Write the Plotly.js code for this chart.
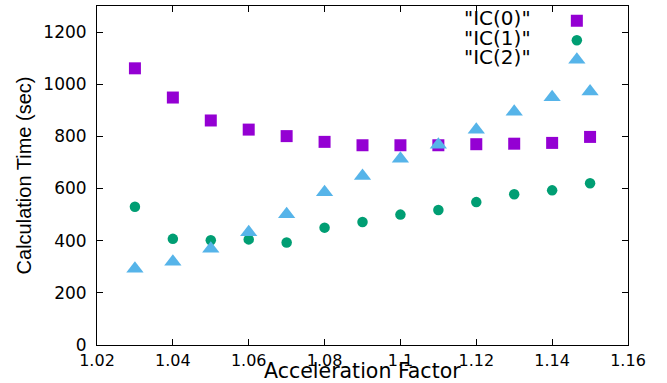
<!DOCTYPE html>
<html>
<head>
<meta charset="utf-8">
<script src="https://cdn.plot.ly/plotly-3.0.1.min.js"></script>
<style>html,body{margin:0;padding:0;background:#fff;}#chart{width:667px;height:383px;}</style>
</head>
<body>
<div id="chart"></div>
<script>
const accel = [1.03, 1.04, 1.05, 1.06, 1.07, 1.08, 1.09, 1.10, 1.11, 1.12, 1.13, 1.14, 1.15];
const ic0 = [1061, 949, 861, 826, 801, 779, 766, 766, 766, 770, 772, 775, 798];
const ic1 = [530, 407, 402, 405, 393, 450, 472, 500, 518, 548, 578, 593, 620];
const ic2 = [292, 319, 369, 432, 501, 586, 648, 714, 768, 825, 894, 950, 972];
const seriesNames = ['"IC(0)"', '"IC(1)"', '"IC(2)"'];
const xTitle = 'Acceleration Factor';
const yTitle = 'Calculation Time (sec)';
const xTickVals = [1.02, 1.04, 1.06, 1.08, 1.10, 1.12, 1.14, 1.16];
const xTickText = ['1.02', '1.04', '1.06', '1.08', '1.1', '1.12', '1.14', '1.16'];
const yTickVals = [0, 200, 400, 600, 800, 1000, 1200];
const yTickText = ['0', '200', '400', '600', '800', '1000', '1200'];

const colors = ['#9400d3', '#009e73', '#56b4e9'];
const symbols = ['square', 'circle', 'triangle-up'];
const sizes = [12, 10.5, 15];
const values = [ic0, ic1, ic2];

const traces = values.map((v, i) => ({
  x: accel, y: v, type: 'scatter', mode: 'markers', name: ' ',
  marker: {symbol: symbols[i], color: colors[i], size: sizes[i], line: {width: 0}}
}));

const hFont = 'DejaVu Sans, sans-serif';
const axisCommon = {
  showline: true, linecolor: '#000', linewidth: 1, mirror: 'ticks',
  ticks: 'inside', ticklen: 6, tickwidth: 1, tickcolor: '#000',
  showgrid: false, zeroline: false, tickmode: 'array',
  tickfont: {family: hFont, size: 17, color: '#000'}
};

const annotations = seriesNames.map((n, i) => ({
  xref: 'paper', yref: 'paper', x: 0.822, y: [0.965, 0.907, 0.850][i],
  xanchor: 'right', yanchor: 'middle', text: n, showarrow: false,
  font: {family: hFont, size: 20, color: '#000'}
}));
annotations.push({
  xref: 'paper', yref: 'paper', x: 0.5, y: -0.076, xanchor: 'center', yanchor: 'middle',
  text: xTitle, showarrow: false, borderpad: 0,
  font: {family: hFont, size: 20.5, color: '#000'}
});

const layout = {
  width: 667, height: 383,
  margin: {l: 97, r: 39, t: 6, b: 38},
  paper_bgcolor: '#fff', plot_bgcolor: '#fff',
  showlegend: true,
  legend: {x: 0.866, y: 1.0, xanchor: 'left', yanchor: 'top', bgcolor: 'rgba(0,0,0,0)',
           borderwidth: 0, font: {family: hFont, size: 12.7}, tracegroupgap: 0, itemwidth: 30},
  xaxis: Object.assign({}, axisCommon, {
    range: [1.02, 1.16], tickvals: xTickVals, ticktext: xTickText, ticklabelstandoff: 1,
    tickfont: {family: hFont, size: 16, color: '#000'}
  }),
  yaxis: Object.assign({}, axisCommon, {
    range: [0, 1300], tickvals: yTickVals, ticktext: yTickText, ticklabelstandoff: 6,
    title: {text: yTitle, font: {family: 'Liberation Sans, Arial, sans-serif', size: 20, color: '#000'}, standoff: 6}
  }),
  annotations: annotations
};

Plotly.newPlot('chart', traces, layout, {displayModeBar: false, staticPlot: true});
</script>
</body>
</html>
